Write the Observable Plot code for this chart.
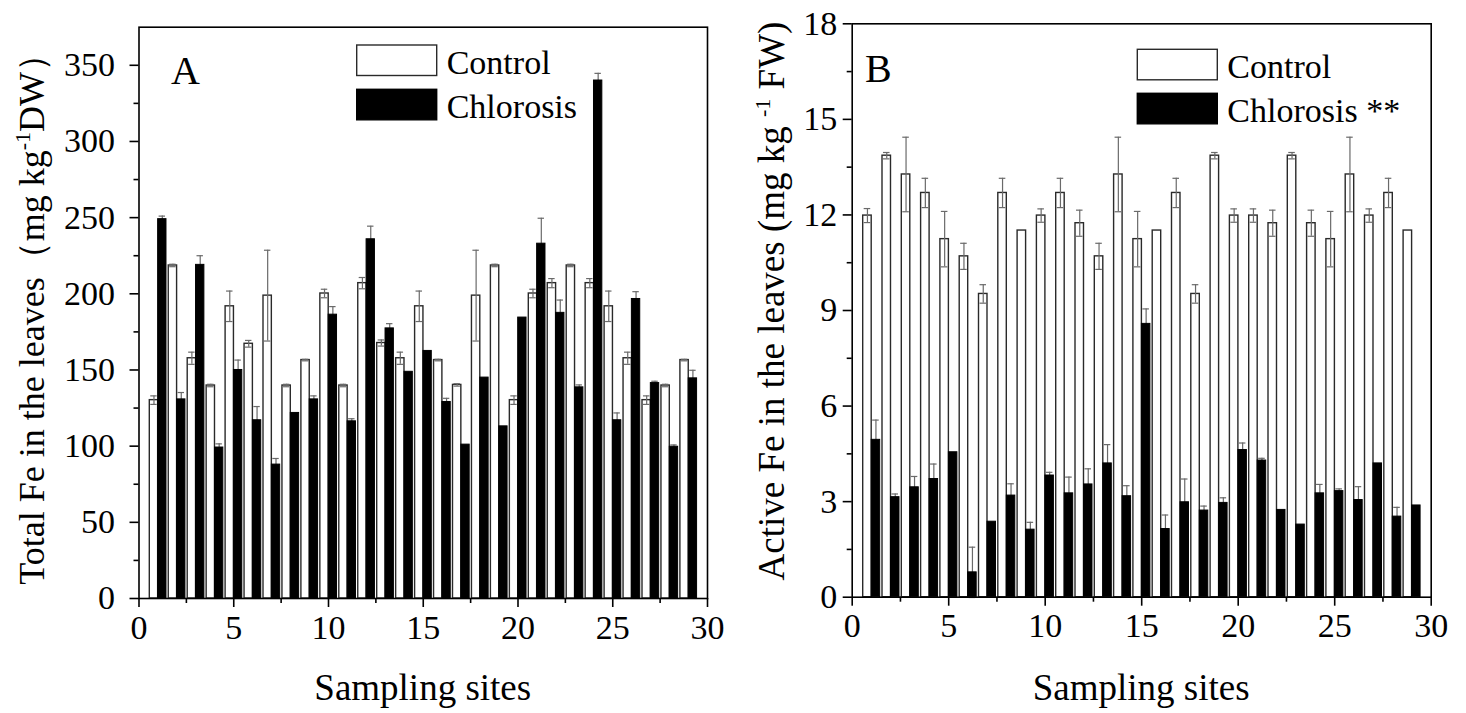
<!DOCTYPE html>
<html>
<head>
<meta charset="utf-8">
<script src="https://cdn.jsdelivr.net/npm/d3@7"></script>
<script src="https://cdn.jsdelivr.net/npm/@observablehq/plot@0.6"></script>
<style>
  html, body { margin: 0; padding: 0; background: white; }
  #wrap { position: relative; width: 1466px; height: 713px; overflow: hidden; background: white; }
  #wrap svg { position: absolute; top: 0; max-width: none; }
</style>
</head>
<body>
<div id="wrap"></div>
<script>
// ---------- data ----------
const sites = d3.range(1, 30);

// Panel A: Total Fe in the leaves (mg kg-1 DW)
const totalControl    = [130.2, 218.6, 157.7, 139.8, 191.8, 167.2, 198.8, 139.8, 156.5, 200.2, 139.8, 207.0, 167.7, 157.7, 191.8, 156.5, 140.2, 198.8, 218.6, 130.2, 200.2, 207.0, 218.6, 207.0, 191.8, 157.7, 130.2, 139.8, 156.5];
const totalControlErr = [2.8, 0.8, 4.0, 0.8, 10.0, 2.2, 29.8, 0.8, 0.5, 2.8, 0.8, 3.7, 2.0, 4.0, 10.0, 0.5, 0.8, 29.8, 0.8, 2.8, 2.8, 3.0, 0.8, 3.0, 10.0, 4.0, 2.8, 0.8, 0.5];
const totalChlorosis    = [249.0, 130.7, 219.0, 99.1, 150.0, 117.0, 87.9, 121.8, 130.7, 186.3, 116.3, 235.8, 177.3, 148.8, 162.5, 129.0, 101.0, 145.0, 113.0, 184.4, 232.9, 187.5, 138.6, 340.0, 117.0, 196.6, 141.4, 99.6, 144.5];
const totalChlorosisErr = [2.0, 4.5, 6.0, 2.4, 6.5, 9.0, 4.0, 0, 2.3, 5.3, 1.7, 8.6, 3.1, 0, 0, 2.4, 0, 0, 0, 0, 16.7, 8.4, 1.6, 4.7, 4.8, 4.8, 1.2, 1.2, 5.3];

// Panel B: Active Fe in the leaves (mg kg-1 FW)
const activeControl    = [11.98, 13.86, 13.27, 12.69, 11.24, 10.70, 9.52, 12.69, 11.51, 11.98, 12.69, 11.74, 10.70, 13.27, 11.24, 11.51, 12.69, 9.52, 13.86, 11.98, 11.98, 11.74, 13.86, 11.74, 11.24, 13.27, 11.98, 12.69, 11.51];
const activeControlErr = [0.22, 0.10, 1.17, 0.46, 0.87, 0.41, 0.29, 0.46, 0, 0.21, 0.46, 0.41, 0.41, 1.17, 0.87, 0, 0.46, 0.29, 0.10, 0.21, 0.21, 0.41, 0.10, 0.41, 0.87, 1.17, 0.21, 0.46, 0];
const activeChlorosis    = [4.94, 3.14, 3.45, 3.71, 4.55, 0.78, 2.37, 3.19, 2.12, 3.82, 3.26, 3.54, 4.20, 3.17, 8.58, 2.14, 2.98, 2.72, 2.96, 4.62, 4.29, 2.74, 2.28, 3.26, 3.33, 3.05, 4.20, 2.53, 2.88];
const activeChlorosisErr = [0.62, 0.10, 0.34, 0.47, 0, 0.79, 0, 0.37, 0.23, 0.10, 0.51, 0.49, 0.59, 0.33, 0.47, 0.44, 0.73, 0.14, 0.16, 0.22, 0.07, 0, 0, 0.28, 0.07, 0.42, 0, 0.29, 0];

const xTicks = [0, 5, 10, 15, 20, 25, 30];
const seriesNames = ["Control", "Chlorosis"];

// ---------- drawing ----------
const FONT = "'Liberation Serif', 'Times New Roman', serif";
const wrap = document.getElementById("wrap");

function panel(cfg) {
  const rows = sites.map((s, i) => ({
    site: s, ctrl: cfg.ctrl[i], ctrlErr: cfg.ctrlErr[i], chl: cfg.chl[i], chlErr: cfg.chlErr[i]
  }));
  const cOff = -0.21, kOff = 0.23, half = 0.22, cap = 0.17;
  const errMarks = (key, ekey, off) => {
    const r = rows.filter(d => d[ekey] > 0);
    const st = {stroke: "#6a6a6a", strokeWidth: 1.2};
    return [
      Plot.ruleX(r, {x: d => d.site + off, y1: d => d[key] - d[ekey], y2: d => d[key] + d[ekey], ...st}),
      Plot.ruleY(r, {y: d => d[key] + d[ekey], x1: d => d.site + off - cap, x2: d => d.site + off + cap, ...st}),
      Plot.ruleY(r, {y: d => d[key] - d[ekey], x1: d => d.site + off - cap, x2: d => d.site + off + cap, ...st})
    ];
  };
  const svg = Plot.plot({
    width: cfg.width, height: 713,
    marginLeft: cfg.marginLeft, marginRight: cfg.marginRight,
    marginTop: cfg.marginTop, marginBottom: cfg.marginBottom,
    x: {domain: [0, 30]},
    y: {domain: [0, cfg.yMax]},
    style: {fontFamily: FONT, fontSize: "34px", color: "black", background: "white", overflow: "visible"},
    marks: [
      Plot.rect(rows, {x1: d => d.site + cOff - half, x2: d => d.site + cOff + half, y1: 0, y2: "ctrl",
        fill: "white", stroke: "#2a2a2a", strokeWidth: 1.4, inset: 0}),
      ...errMarks("ctrl", "ctrlErr", cOff),
      ...errMarks("chl", "chlErr", kOff),
      Plot.rect(rows, {x1: d => d.site + kOff - half, x2: d => d.site + kOff + half, y1: 0, y2: "chl",
        fill: "black", stroke: "black", strokeWidth: 1, inset: 0}),
      Plot.axisX({ticks: xTicks, tickSize: 9, tickPadding: 7, label: null, strokeWidth: 1.6, tickFormat: d => d}),
      Plot.axisX({ticks: d3.range(2.5, 30, 5), tickSize: 5, label: null, strokeWidth: 1.6, tickFormat: () => ""}),
      Plot.axisY({ticks: cfg.yMajor, tickSize: 9, tickPadding: cfg.yPad, label: null, strokeWidth: 1.6, tickFormat: d => d}),
      Plot.axisY({ticks: cfg.yMinor, tickSize: 5, label: null, strokeWidth: 1.6, tickFormat: () => ""}),
      Plot.frame({stroke: "black", strokeWidth: 1.6})
    ]
  });
  svg.style.left = cfg.left + "px";
  wrap.appendChild(svg);

  const s = d3.select(svg);
  const fx0 = cfg.marginLeft, fx1 = cfg.width - cfg.marginRight;
  const fy0 = cfg.marginTop, fy1 = 713 - cfg.marginBottom;

  // x-axis title
  s.append("text").attr("x", (fx0 + fx1) / 2).attr("y", 700)
    .attr("text-anchor", "middle").attr("font-family", FONT).attr("font-size", 37).attr("fill", "black")
    .text("Sampling sites");

  // y-axis title
  const yt = s.append("text")
    .attr("transform", `translate(${cfg.yTitleX},${(fy0 + fy1) / 2 + cfg.yTitleShift}) rotate(-90)`)
    .attr("text-anchor", "middle").attr("font-family", FONT).attr("font-size", cfg.yTitleSize).attr("fill", "black");
  yt.append("tspan").text(cfg.yTitle[0]);
  yt.append("tspan").attr("dy", -14).attr("font-size", 22).text(cfg.yTitle[1]);
  yt.append("tspan").attr("dy", 14).text(cfg.yTitle[2]);

  // panel letter
  s.append("text").attr("x", cfg.letterX).attr("y", cfg.letterY).attr("text-anchor", "start")
    .attr("font-family", FONT).attr("font-size", 40).attr("fill", "black").text(cfg.letter);

  // legend
  cfg.legendNames.forEach((name, i) => {
    const y = cfg.legendY + i * cfg.legendStep;
    s.append("rect").attr("x", cfg.legendX).attr("y", y).attr("width", 80).attr("height", 30.5)
      .attr("fill", i === 0 ? "white" : "black").attr("stroke", i === 0 ? "#2a2a2a" : "black").attr("stroke-width", 1.4);
    s.append("text").attr("x", cfg.legendX + 90).attr("y", y + 28.5).attr("text-anchor", "start")
      .attr("font-family", FONT).attr("font-size", 34).attr("fill", "black").text(name);
  });
}

panel({
  left: 0, width: 730, marginLeft: 138.5, marginRight: 23, marginTop: 26.7, marginBottom: 115,
  ctrl: totalControl, ctrlErr: totalControlErr, chl: totalChlorosis, chlErr: totalChlorosisErr,
  yMax: 375, yMajor: d3.range(0, 351, 50), yMinor: d3.range(25, 351, 50), yPad: 15,
  yTitle: ["Total Fe in the leaves（mg kg", "-1", "DW）"], yTitleX: 44, yTitleSize: 36, yTitleShift: -2,
  letter: "A", letterX: 171, letterY: 84,
  legendNames: seriesNames, legendX: 356.7, legendY: 45, legendStep: 44.3
});

panel({
  left: 730, width: 736, marginLeft: 121.7, marginRight: 35.3, marginTop: 23.3, marginBottom: 116.3,
  ctrl: activeControl, ctrlErr: activeControlErr, chl: activeChlorosis, chlErr: activeChlorosisErr,
  yMax: 18, yMajor: d3.range(0, 18.01, 3), yMinor: d3.range(1.5, 18, 3), yPad: 6,
  yTitle: ["Active Fe in the leaves (mg kg ", "-1", " FW)"], yTitleX: 54, yTitleSize: 37, yTitleShift: -9,
  letter: "B", letterX: 135, letterY: 82,
  legendNames: [seriesNames[0], seriesNames[1] + " **"], legendX: 407.3, legendY: 49.3, legendStep: 44
});
</script>
</body>
</html>
